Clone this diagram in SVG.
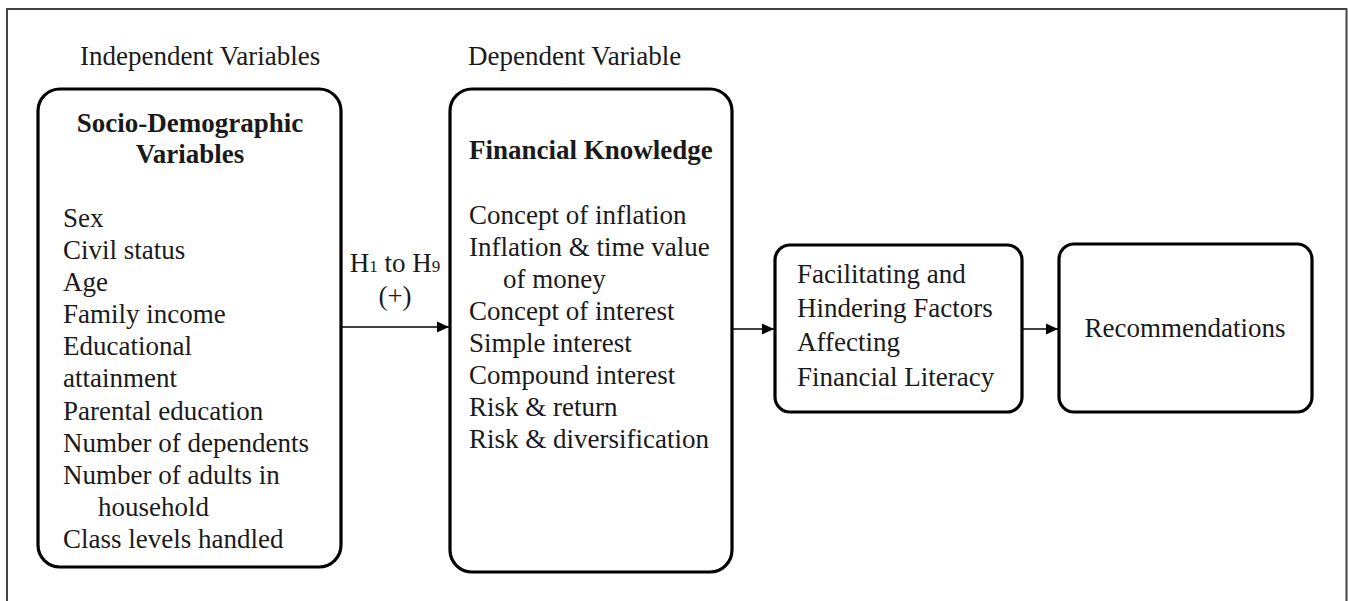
<svg xmlns="http://www.w3.org/2000/svg" width="1348" height="601" viewBox="0 0 1348 601">
<defs>
<style>
.t{font-family:"Liberation Serif","Times New Roman",serif;font-size:27px;fill:#1a1a1a}
.b{font-weight:bold}
.box{fill:#fff;stroke:#000;stroke-width:3.2}
.con{stroke:#000;stroke-width:1.4;fill:none}
.sub{font-size:17px}
</style>
<marker id="ah" viewBox="0 0 12 12" refX="12" refY="6" markerWidth="12" markerHeight="12" markerUnits="userSpaceOnUse" orient="auto">
<path d="M0,0.5 L12,6 L0,11.5 Z" fill="#000"/>
</marker>
</defs>
<rect x="0" y="0" width="1348" height="601" fill="#fff"/>
<rect x="7" y="9" width="1339.5" height="640" fill="none" stroke="#444" stroke-width="2"/>
<g id="labels">
<text class="t" x="80" y="65">Independent Variables</text>
<text class="t" x="468" y="65">Dependent Variable</text>
</g>
<g id="socio">
<rect class="box" x="38" y="89" width="303" height="478" rx="22"/>
<text class="t b" x="190" y="132" text-anchor="middle">Socio-Demographic</text>
<text class="t b" x="190" y="163" text-anchor="middle">Variables</text>
<text class="t" x="63" y="227">Sex</text>
<text class="t" x="63" y="259">Civil status</text>
<text class="t" x="63" y="291">Age</text>
<text class="t" x="63" y="323">Family income</text>
<text class="t" x="63" y="355">Educational</text>
<text class="t" x="63" y="387">attainment</text>
<text class="t" x="63" y="420">Parental education</text>
<text class="t" x="63" y="452">Number of dependents</text>
<text class="t" x="63" y="484">Number of adults in</text>
<text class="t" x="98" y="516">household</text>
<text class="t" x="63" y="548">Class levels handled</text>
</g>
<g id="knowledge">
<rect class="box" x="450" y="89" width="282" height="483" rx="22"/>
<text class="t b" x="469" y="159">Financial Knowledge</text>
<text class="t" x="469" y="224">Concept of inflation</text>
<text class="t" x="469" y="256">Inflation &amp; time value</text>
<text class="t" x="503" y="288">of money</text>
<text class="t" x="469" y="320">Concept of interest</text>
<text class="t" x="469" y="352">Simple interest</text>
<text class="t" x="469" y="384">Compound interest</text>
<text class="t" x="469" y="416">Risk &amp; return</text>
<text class="t" x="469" y="448">Risk &amp; diversification</text>
</g>
<g id="factors">
<rect class="box" x="775" y="245" width="247" height="167" rx="15"/>
<text class="t" x="797" y="283">Facilitating and</text>
<text class="t" x="797" y="317">Hindering Factors</text>
<text class="t" x="797" y="351">Affecting</text>
<text class="t" x="797" y="386">Financial Literacy</text>
</g>
<g id="recommendations">
<rect class="box" x="1059" y="244" width="253" height="168" rx="15"/>
<text class="t" x="1185" y="337" text-anchor="middle">Recommendations</text>
</g>
<g id="connectors">
<line class="con" x1="342" y1="327" x2="449" y2="327" marker-end="url(#ah)"/>
<line class="con" x1="733" y1="329" x2="774" y2="329" marker-end="url(#ah)"/>
<line class="con" x1="1023" y1="329" x2="1058" y2="329" marker-end="url(#ah)"/>
<text class="t" x="395" y="272" text-anchor="middle">H<tspan class="sub">1</tspan> to H<tspan class="sub">9</tspan></text>
<text class="t" x="395" y="305" text-anchor="middle">(+)</text>
</g>
</svg>
